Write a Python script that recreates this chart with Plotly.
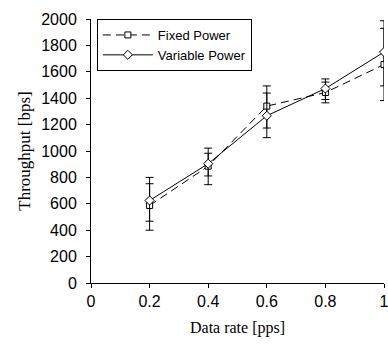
import plotly.graph_objects as go

# Data
data_rate = [0.2, 0.4, 0.6, 0.8, 1.0]

fixed_power = [587, 885, 1340, 1443, 1655]
fixed_err_plus = [213, 137, 153, 79, 274]
fixed_err_minus = [187, 140, 166, 78, 273]

variable_power = [625, 904, 1267, 1473, 1750]
variable_err_plus = [127, 79, 172, 73, 237]
variable_err_minus = [157, 93, 166, 83, 257]

x_ticks = [0, 0.2, 0.4, 0.6, 0.8, 1.0]
x_tick_labels = ["0", "0.2", "0.4", "0.6", "0.8", "1"]
y_ticks = list(range(0, 2001, 200))

fig = go.Figure()

fig.add_trace(go.Scatter(
    x=data_rate, y=fixed_power, name="Fixed Power",
    mode="lines+markers",
    line=dict(color="black", width=1, dash="8px,5px"),
    marker=dict(symbol="square", size=6, color="white",
                line=dict(color="black", width=1)),
    error_y=dict(type="data", symmetric=False, array=fixed_err_plus,
                 arrayminus=fixed_err_minus, color="black", thickness=1, width=4),
))

fig.add_trace(go.Scatter(
    x=data_rate, y=variable_power, name="Variable Power",
    mode="lines+markers",
    line=dict(color="black", width=1),
    marker=dict(symbol="diamond", size=7, color="white",
                line=dict(color="black", width=1)),
    error_y=dict(type="data", symmetric=False, array=variable_err_plus,
                 arrayminus=variable_err_minus, color="black", thickness=1, width=4),
))

fig.update_layout(
    width=400, height=348,
    margin=dict(l=91, r=12, t=11, b=65),
    paper_bgcolor="white", plot_bgcolor="white",
    font=dict(family="Liberation Sans, Arial", size=16, color="black"),
    showlegend=True,
    legend=dict(
        x=0.02, y=1.0, xanchor="left", yanchor="top",
        bgcolor="white", bordercolor="black", borderwidth=1,
        font=dict(family="Liberation Sans, Arial", size=13, color="black"),
        tracegroupgap=0, itemwidth=50,
    ),
    xaxis=dict(
        range=[0, 1.0], tickvals=x_ticks, ticktext=x_tick_labels,
        showgrid=False, zeroline=False,
        showline=True, linecolor="black", linewidth=1,
        ticks="outside", ticklen=4, tickcolor="black",
        title=dict(text="Data rate [pps]",
                   font=dict(family="Liberation Serif, Times New Roman", size=16),
                   standoff=12),
    ),
    yaxis=dict(
        range=[0, 2000], tickvals=y_ticks,
        showgrid=False, zeroline=False,
        showline=True, linecolor="black", linewidth=1,
        ticks="outside", ticklen=4, tickcolor="black",
        ticklabelstandoff=6,
        title=dict(text="Throughput [bps]",
                   font=dict(family="Liberation Serif, Times New Roman", size=17),
                   standoff=6),
    ),
)

fig.write_html(
    "out.html",
    config={"displayModeBar": False},
    post_script="document.body.style.margin='0px';document.body.style.overflow='hidden';",
)
